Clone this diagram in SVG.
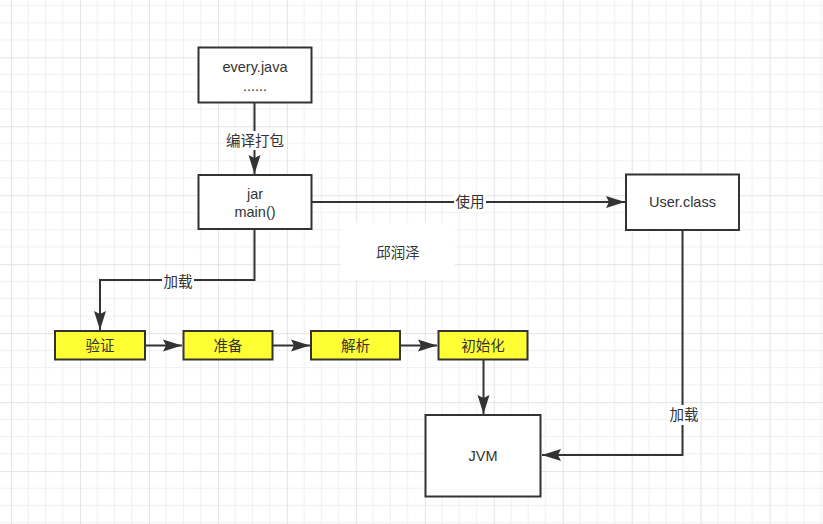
<svg xmlns="http://www.w3.org/2000/svg" width="823" height="524" viewBox="0 0 823 524">
<style>
.box{fill:#ffffff;stroke:#333333;stroke-width:2}
.ybox{fill:#ffff33;stroke:#333333;stroke-width:2}
.edge{fill:none;stroke:#333333;stroke-width:2}
.t{font-family:"Liberation Sans","Noto Sans CJK SC",sans-serif;font-size:14.5px;fill:#333333;text-anchor:middle;dominant-baseline:central}
.lbg{fill:#ffffff}
</style>
<defs>
<pattern id="grid" patternUnits="userSpaceOnUse" x="80" y="57.3" width="68.96" height="68.96">
<path d="M17.24 0V68.96M34.48 0V68.96M51.72 0V68.96M0 17.24H68.96M0 34.48H68.96M0 51.72H68.96" stroke="#f0f0f0" stroke-width="1" fill="none"/>
<path d="M0.5 0V68.96M0 0.5H68.96" stroke="#e4e4e4" stroke-width="1" fill="none"/>
</pattern>
<marker id="arr" markerUnits="userSpaceOnUse" markerWidth="20" markerHeight="14" viewBox="0 0 20 14" refX="19" refY="7" orient="auto">
<path d="M0,1 L19,7 L0,13 L3,7 Z" fill="#333333"/>
</marker>
</defs>
<rect width="823" height="524" fill="#ffffff"/>
<rect width="823" height="524" fill="url(#grid)"/>
<rect x="341" y="223" width="114" height="57" fill="#ffffff"/>

<g id="connectors">
<path class="edge" d="M254.5 102V174" marker-end="url(#arr)"/>
<rect class="lbg" x="224" y="131" width="62" height="19"/>
<text class="t" x="255" y="140.5">编译打包</text>

<path class="edge" d="M311 202H625" marker-end="url(#arr)"/>
<rect class="lbg" x="454" y="193" width="32" height="19"/>
<text class="t" x="470" y="202">使用</text>

<path class="edge" d="M254.5 229V280H100V330" marker-end="url(#arr)"/>
<rect class="lbg" x="162" y="272" width="32" height="19"/>
<text class="t" x="178" y="281.5">加载</text>

<path class="edge" d="M145 345.5H182" marker-end="url(#arr)"/>
<path class="edge" d="M272 345.5H310" marker-end="url(#arr)"/>
<path class="edge" d="M400 345.5H437" marker-end="url(#arr)"/>
<path class="edge" d="M483.5 359V414" marker-end="url(#arr)"/>

<path class="edge" d="M682.5 230V455H542" marker-end="url(#arr)"/>
<rect class="lbg" x="668" y="405" width="32" height="20"/>
<text class="t" x="684" y="415">加载</text>
</g>

<g id="every-java">
<rect class="box" x="198.5" y="47.5" width="113" height="55"/>
<text class="t" x="255" y="67">every.java</text>
<text class="t" x="255" y="86">......</text>
</g>
<g id="jar">
<rect class="box" x="198.5" y="175" width="113" height="54"/>
<text class="t" x="255" y="194">jar</text>
<text class="t" x="255" y="212">main()</text>
</g>
<g id="user-class">
<rect class="box" x="626" y="174.5" width="113" height="55.5"/>
<text class="t" x="682.5" y="202">User.class</text>
</g>
<g id="note">
<text class="t" x="398" y="253">邱润泽</text>
</g>
<g id="yanzheng">
<rect class="ybox" x="55" y="331" width="90" height="28.5"/>
<text class="t" x="100" y="345.5">验证</text>
</g>
<g id="zhunbei">
<rect class="ybox" x="183.5" y="331" width="89" height="28.5"/>
<text class="t" x="228" y="345.5">准备</text>
</g>
<g id="jiexi">
<rect class="ybox" x="311" y="331" width="89" height="28.5"/>
<text class="t" x="355.5" y="345.5">解析</text>
</g>
<g id="chushihua">
<rect class="ybox" x="438.5" y="331" width="89" height="28.5"/>
<text class="t" x="483" y="345.5">初始化</text>
</g>
<g id="jvm">
<rect class="box" x="425.5" y="415" width="115" height="81.5"/>
<text class="t" x="483" y="456">JVM</text>
</g>
</svg>
